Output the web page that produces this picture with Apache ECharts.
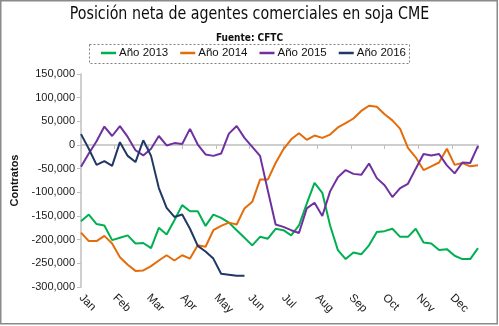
<!DOCTYPE html>
<html><head><meta charset="utf-8">
<script src="https://cdn.jsdelivr.net/npm/echarts@6/dist/echarts.min.js"></script>
<style>html,body{margin:0;padding:0;background:#fff}#c{width:499px;height:326px}</style>
</head><body><div id="c"></div>
<script>
const months = ['Jan','Feb','Mar','Apr','May','Jun','Jul','Aug','Sep','Oct','Nov','Dec'];
const seriesNames = ['Año 2013','Año 2014','Año 2015','Año 2016'];
const y2013 = [-161000,-147000,-167000,-170000,-201000,-196000,-191000,-208000,-207000,-218000,-175000,-189000,-159000,-127000,-140000,-140000,-171000,-147000,-154000,-164000,-180000,-196000,-212000,-194000,-198000,-177000,-180000,-191000,-170000,-124000,-80000,-101000,-170000,-222000,-241000,-227000,-231000,-212000,-184000,-182000,-177000,-194000,-194000,-177000,-206000,-208000,-222000,-220000,-234000,-241000,-241000,-218000];
const y2014 = [-185000,-203000,-203000,-192000,-208000,-237000,-253000,-266000,-265000,-256000,-244000,-233000,-244000,-233000,-240000,-212000,-215000,-180000,-171000,-164000,-168000,-134000,-120000,-73000,-73000,-38000,-9000,12000,25000,11000,20000,15000,22000,37000,46000,56000,72000,83000,81000,65000,52000,34000,-6000,-26000,-53000,-45000,-37000,-8000,-42000,-38000,-45000,-43000];
const y2015 = [-46000,-18000,8000,39000,19000,40000,17000,-11000,-22000,-8000,19000,-1000,4000,2000,34000,1000,-20000,-23000,-18000,24000,40000,15000,-4000,-23000,-96000,-168000,-173000,-180000,-186000,-134000,-122000,-150000,-98000,-68000,-53000,-61000,-63000,-39000,-70000,-85000,-110000,-91000,-82000,-50000,-19000,-22000,-19000,-43000,-60000,-37000,-38000,-2000];
const y2016 = [23000,-8000,-42000,-34000,-44000,6000,-23000,-36000,10000,-23000,-91000,-133000,-152000,-147000,-177000,-213000,-225000,-240000,-272000,-274000,-276000,-276000];
const colors = ['#00B050','#E46C0A','#7030A0','#1F3864'];
const titleText = 'Posición neta de agentes comerciales en soja CME';
const subtitleText = 'Fuente: CFTC';

const allData = [y2013, y2014, y2015, y2016];
const nWeeks = 52;
const monthStep = nWeeks / 12;
const FONT = "'Liberation Sans', Arial, sans-serif";
const NARROW = "'Liberation Sans Narrow', 'DejaVu Sans Condensed', sans-serif";

const chart = echarts.init(document.getElementById('c'), null, {renderer:'canvas'});
chart.setOption({
  animation: false,
  backgroundColor: '#fff',
  textStyle: {fontFamily: FONT},
  title: [
    {text: subtitleText, left: 'center', top: 28,
     textStyle: {fontFamily: NARROW, fontSize: 10, fontWeight: 'bold', color: '#111'}}
  ],
  legend: {
    data: seriesNames, left: 101, top: 47, padding: 0, icon: 'rect', itemWidth: 15, itemHeight: 2.5, itemGap: 12,
    textStyle: {fontFamily: FONT, fontSize: 11.5, color: '#111', padding: [0,0,0,-2]}
  },
  graphic: [
    {type: 'text', x: 249.5, y: 5, scaleX: 0.855, originX: 0, originY: 0,
     style: {text: titleText, fontFamily: NARROW, fontSize: 18.5, fontWeight: 'normal', fill: '#0d0d0d',
             textAlign: 'center', textVerticalAlign: 'top'}, silent: true},
    {type: 'rect', shape: {x: 89.5, y: 44.5, width: 320, height: 19},
     style: {fill: 'none', stroke: '#808080', lineWidth: 1, lineDash: [2,2]}, silent: true},
    {type: 'rect', shape: {x: 0.75, y: 0.75, width: 496.5, height: 323},
     style: {fill: 'none', stroke: '#8a8a8a', lineWidth: 1.5}, silent: true}
  ],
  grid: {left: 81, right: 21, top: 74, bottom: 39},
  xAxis: [
    {type: 'value', min: 0, max: nWeeks - 1, interval: monthStep,
     axisLine: {onZero: true, lineStyle: {color: '#bfbfbf', width: 1.5}},
     axisTick: {show: true, length: 4, lineStyle: {color: '#bfbfbf'}},
     axisLabel: {show: false}, splitLine: {show: false}},
    {type: 'value', min: 0, max: nWeeks - 1, interval: monthStep, position: 'bottom',
     axisLine: {show: false, onZero: false}, axisTick: {show: false}, splitLine: {show: false},
     axisLabel: {rotate: -45, margin: 9, fontSize: 11.5, color: '#1a1a1a', showMaxLabel: false,
       formatter: v => months[Math.round(v / monthStep)] || ''}}
  ],
  yAxis: {
    type: 'value', min: -300000, max: 150000, interval: 50000,
    name: 'Contratos', nameLocation: 'middle', nameGap: 57,
    nameTextStyle: {fontFamily: FONT, fontWeight: 'bold', fontSize: 11, color: '#111'},
    axisLine: {show: true, onZero: false, lineStyle: {color: '#bfbfbf', width: 1.5}},
    axisTick: {show: true, length: 4, lineStyle: {color: '#bfbfbf'}},
    axisLabel: {fontSize: 11, color: '#1a1a1a', margin: 6, formatter: v => v.toLocaleString('en-US')},
    splitLine: {show: false}
  },
  series: allData.map((arr, k) => ({
    type: 'line', name: seriesNames[k], xAxisIndex: 0,
    data: arr.map((v, i) => [i, v]),
    symbol: 'none', showSymbol: false,
    lineStyle: {width: 2, color: colors[k]}, itemStyle: {color: colors[k]}
  }))
});
</script></body></html>
